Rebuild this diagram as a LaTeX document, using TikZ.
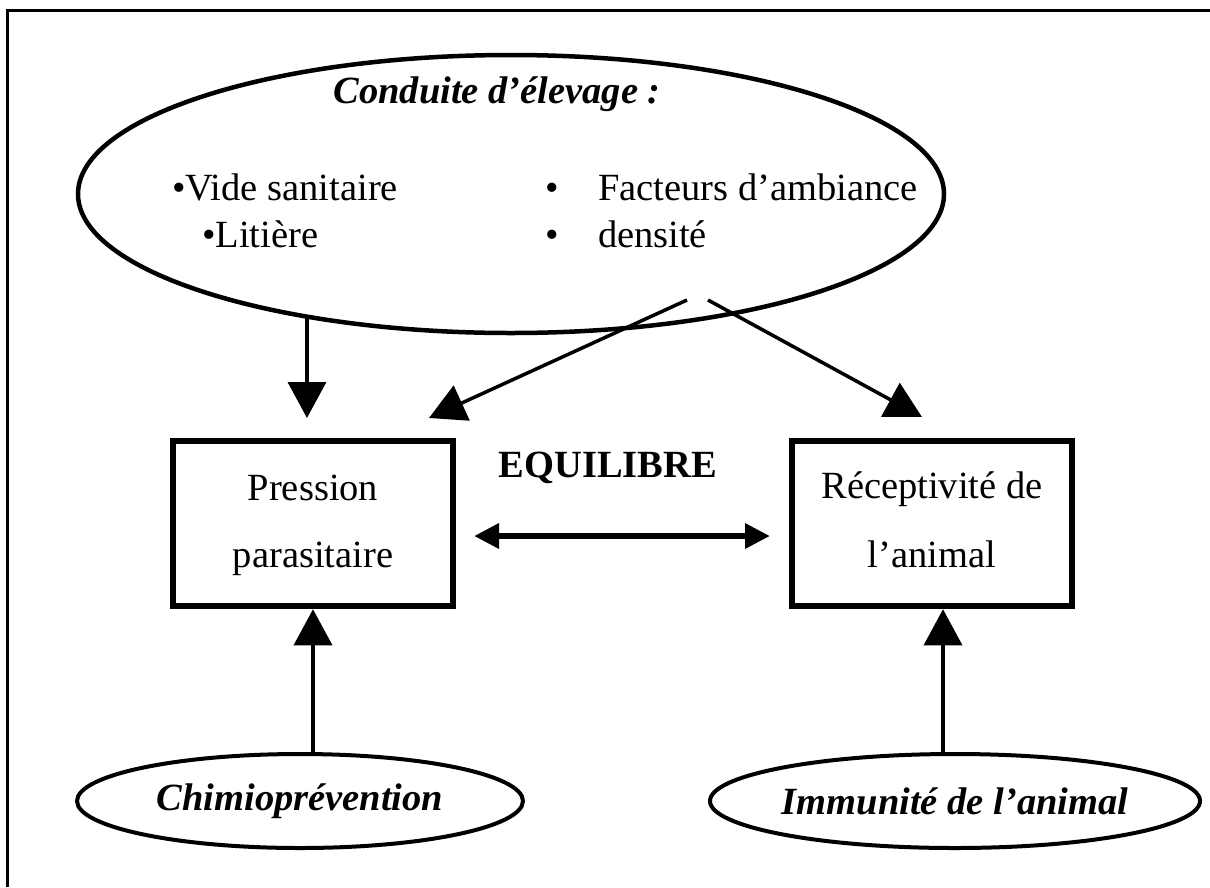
\documentclass[tikz,border=0pt]{standalone}
\usepackage{fontspec}
\setmainfont{Liberation Serif}
\usetikzlibrary{arrows.meta,shapes.geometric}
\begin{document}
\begin{tikzpicture}[x=1pt,y=-1pt,
  every node/.style={inner sep=0pt, outer sep=0pt},
  rm/.style={font=\fontsize{38.5}{46}\selectfont},
  bi/.style={font=\fontsize{38.5}{46}\selectfont\bfseries\itshape},
  bf/.style={font=\fontsize{38.5}{46}\selectfont\bfseries},
  boxnode/.style={draw, line width=6.5pt, minimum width=280pt, minimum height=165pt},
  bigell/.style={draw, ellipse, line width=4.5pt, minimum width=866pt, minimum height=278pt},
  smallell/.style={draw, ellipse, line width=4pt, minimum width=446pt, minimum height=94pt, bi},
  arr/.style={line width=3.5pt, -{Triangle[length=36pt,width=38pt]}},
  dbl/.style={line width=6.5pt, {Triangle[length=25pt,width=24pt]}-{Triangle[length=25pt,width=24pt]}},
]
\useasboundingbox (0,0) rectangle (1210,887);
\fill[white] (0,0) rectangle (1210,887);
% frame (cropped at right and bottom)
\draw[line width=3pt, line cap=butt] (7,887) -- (7,10) -- (1210,10);

% top ellipse and its content
\node[bigell] (cond) at (511,194) {};
\node[bi, anchor=base] (title) at (497,103) {Conduite d’élevage :};
\node[rm, anchor=base west] (b1) at (172,200) {•Vide sanitaire};
\node[rm, anchor=base west] (b2) at (202,247) {•Litière};
\node[rm, anchor=base] (b3dot) at (552,200) {•};
\node[rm, anchor=base west] (b3) at (598,200) {Facteurs d’ambiance};
\node[rm, anchor=base] (b4dot) at (552,247) {•};
\node[rm, anchor=base west] (b4) at (598,247) {densité};

% boxes
\node[boxnode] (lbox) at (313,523.5) {};
\node[rm, anchor=base] (l1) at (313,500) {Pression};
\node[rm, anchor=base] (l2) at (313,567) {parasitaire};
\node[boxnode] (rbox) at (932,523.5) {};
\node[rm, anchor=base] (r1) at (932,498) {Réceptivité de};
\node[rm, anchor=base] (r2) at (932,567) {l’animal};
\node[bf, anchor=base] (eq) at (608,477) {EQUILIBRE};

% bottom ellipses
\node[smallell] (chimio) at (300,801) {Chimioprévention};
\node[smallell] (immun) at (955,801) {Immunité de l’animal};

% connectors
\draw[arr, shorten >=23pt] (cond.211.9) -- (cond.211.9 |- lbox.north);
\coordinate (s2) at ([shift={(176,106)}]cond.center);
\coordinate (t2) at ([shift={(-24,-23)}]lbox.north east);
\draw[arr] (s2) -- (t2);
\coordinate (s3) at ([shift={(197,106)}]cond.center);
\coordinate (t3) at ([shift={(-10,-24)}]rbox.north);
\draw[arr] (s3) -- (t3);
\draw[dbl] ([shift={(21,12.5)}]lbox.east) -- ([shift={(-22,12.5)}]rbox.west);
\coordinate (t4) at ([yshift=-3.25pt]lbox.south);
\draw[arr] (t4 |- chimio.north) -- (t4);
\coordinate (t5) at ([xshift=11pt, yshift=-3.25pt]rbox.south);
\draw[arr] (t5 |- immun.north) -- (t5);
\end{tikzpicture}
\end{document}
